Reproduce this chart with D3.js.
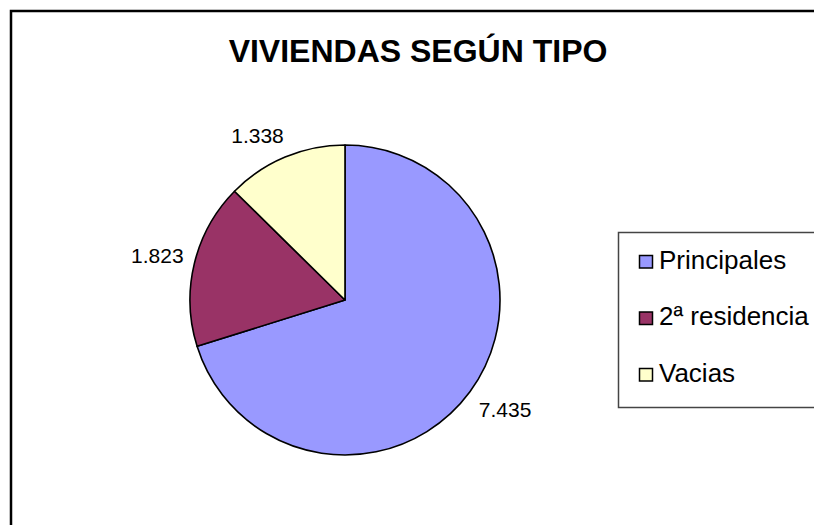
<!DOCTYPE html>
<html>
<head>
<meta charset="utf-8">
<script src="https://cdn.jsdelivr.net/npm/d3@7"></script>
<style>
  html, body { margin: 0; padding: 0; background: #fff; }
  svg { display: block; font-family: "Liberation Sans", Arial, sans-serif; }
</style>
</head>
<body>
<div id="chart"></div>
<script>
const title = "VIVIENDAS SEGÚN TIPO"
const categories = ["Principales", "2ª residencia", "Vacias"]
const values = [7.435, 1.823, 1.338]
const labels = ["7.435", "1.823", "1.338"]
const colors = ["#9999ff", "#993366", "#ffffcc"]

const width = 814
const height = 525
const cx = 345, cy = 300, radius = 155

const svg = d3.select("#chart").append("svg")
    .attr("width", width)
    .attr("height", height)

// chart area border (runs off the right and bottom edges)
svg.append("rect")
    .attr("x", 11)
    .attr("y", 11)
    .attr("width", 900)
    .attr("height", 600)
    .attr("fill", "#fff")
    .attr("stroke", "#000")
    .attr("stroke-width", 2.5)

svg.append("text")
    .attr("x", 418)
    .attr("y", 62)
    .attr("text-anchor", "middle")
    .attr("font-weight", "bold")
    .style("font-size", "32px")
    .text(title)

const data = categories.map((c, i) => ({ name: c, value: values[i], label: labels[i] }))

const color = d3.scaleOrdinal()
    .domain(categories)
    .range(colors)

const pie = d3.pie()
    .sort(null)
    .value(d => d.value)

const arc = d3.arc()
    .innerRadius(0)
    .outerRadius(radius)

// anchor point of each label, a bit outside the pie
const labelArc = d3.arc()
    .innerRadius(166)
    .outerRadius(166)

const g = svg.append("g")
    .attr("transform", `translate(${cx},${cy})`)

const arcs = pie(data)

g.selectAll("path")
    .data(arcs)
    .join("path")
    .attr("d", arc)
    .attr("fill", d => color(d.data.name))
    .attr("stroke", "#000")
    .attr("stroke-width", 1.6)
    .attr("stroke-linejoin", "round")

// label box sits on the outer side of its anchor, like excel does
const clamp = v => Math.max(-1, Math.min(1, v))
g.selectAll("text")
    .data(arcs)
    .join("text")
    .attr("text-anchor", "middle")
    .attr("dominant-baseline", "central")
    .style("font-size", "21px")
    .text(d => d.data.label)
    .attr("transform", function(d) {
        const [ax, ay] = labelArc.centroid(d)
        const a = (d.startAngle + d.endAngle) / 2
        const w = this.getComputedTextLength(), h = 22
        const x = ax + w / 2 * clamp(2.3 * Math.sin(a))
        const y = ay - h / 2 * clamp(2.3 * Math.cos(a))
        return `translate(${x},${y})`
    })

// legend
const legend = svg.append("g")

legend.append("rect")
    .attr("x", 618.5)
    .attr("y", 232.5)
    .attr("width", 220)
    .attr("height", 175)
    .attr("fill", "#fff")
    .attr("stroke", "#444")
    .attr("stroke-width", 1.5)

const item = legend.selectAll("g.item")
    .data(categories)
    .join("g")
    .attr("class", "item")
    .attr("transform", (d, i) => `translate(639,${262 + i * 56.5})`)

item.append("rect")
    .attr("x", 0.5)
    .attr("y", -6.5)
    .attr("width", 13)
    .attr("height", 12.5)
    .attr("fill", d => color(d))
    .attr("stroke", "#000")
    .attr("stroke-width", 1.5)

item.append("text")
    .attr("x", 20)
    .attr("y", 6.5)
    .style("font-size", "26px")
    .text(d => d)
</script>
</body>
</html>
